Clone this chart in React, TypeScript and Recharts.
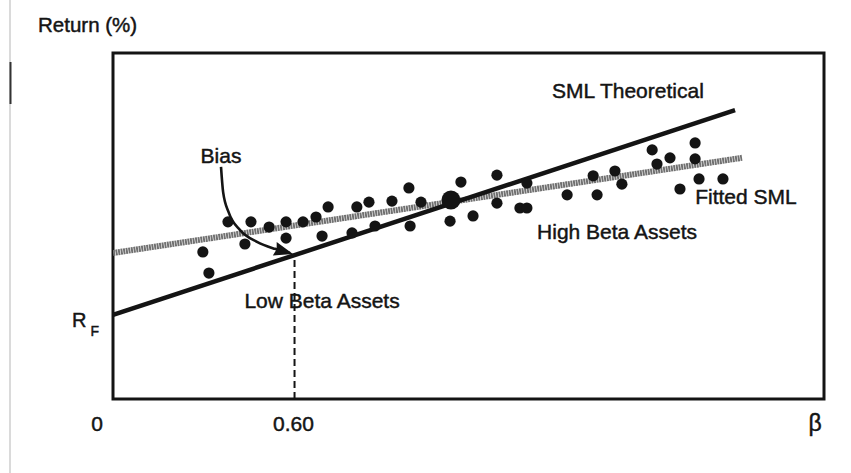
import React from 'react';
import {
  ComposedChart,
  XAxis,
  YAxis,
  Line,
  Scatter,
  ReferenceArea,
  ReferenceLine,
  ReferenceDot,
} from 'recharts';

// ---- data (beta, return %) ----
const assetBeta = [
  0.297, 0.317, 0.38, 0.436, 0.456, 0.516, 0.572, 0.572, 0.628, 0.671, 0.691, 0.711,
  0.79, 0.806, 0.846, 0.866, 0.922, 0.978, 0.982, 1.018, 1.114, 1.15, 1.19, 1.269,
  1.269, 1.345, 1.368, 1.368, 1.501, 1.587, 1.6, 1.659, 1.682, 1.782, 1.798, 1.841,
  1.874, 1.924, 1.924, 1.937, 2.016,
];
const assetReturn = [
  42.5, 36.4, 51.2, 44.8, 51.2, 49.7, 51.2, 46.5, 51.2, 52.6, 47.1, 55.5,
  48.0, 55.5, 56.9, 50.0, 57.2, 61.0, 50.0, 56.9, 51.4, 62.7, 52.9, 64.7,
  56.6, 55.2, 55.2, 62.4, 59.0, 64.5, 59.0, 65.9, 62.1, 72.0, 67.9, 69.7,
  60.7, 74.0, 69.4, 63.6, 63.6,
];
const marketBeta = [1.117];
const marketReturn = [57.5];

const riskFree = 24.3;
const smlBeta = [0, 2.056];
const smlReturn = [riskFree, 83.5];
const fittedBeta = [0, 2.079];
const fittedReturn = [42.2, 69.7];

const biasBeta = [0.357, 0.364, 0.383, 0.42, 0.476, 0.535, 0.585];
const biasReturn = [67.1, 59.8, 53.8, 48.8, 45.4, 43.4, 42.2];
const arrowTip = { b: 0.595, r: 41.9 };

const cutoffBeta = 0.6;
const xDomain: [number, number] = [0, 2.35];
const yDomain: [number, number] = [0, 100];
const xTicks = [0, 0.6, 2.35];
const xTickLabels = ['0', '0.60', 'β'];

const annotations = [
  { text: 'SML Theoretical', b: 1.702, r: 89.3 },
  { text: 'Fitted SML', b: 2.092, r: 58.4 },
  { text: 'High Beta Assets', b: 1.666, r: 48.3 },
  { text: 'Low Beta Assets', b: 0.691, r: 28.6 },
  { text: 'Bias', b: 0.357, r: 70.5 },
];

// ---- derived tables ----
const zip = (bs: number[], rs: number[]) => bs.map((b, i) => ({ b, r: rs[i] }));
const assets = zip(assetBeta, assetReturn);
const market = zip(marketBeta, marketReturn);
const sml = zip(smlBeta, smlReturn);
const fitted = zip(fittedBeta, fittedReturn);
const bias = zip(biasBeta, biasReturn);

const FONT = '"Liberation Sans", Arial, Helvetica, sans-serif';
const INK = '#141414';
const TEXT_STROKE = 0.45;

const Dot = (props: any) => {
  const { cx, cy, size } = props;
  return <circle cx={cx} cy={cy} r={size} fill={INK} />;
};

const xTickOffsets = [-16, -1, -9];
const XTick = (props: any) => {
  const { x, y, index } = props;
  return (
    <text
      x={x + xTickOffsets[index]}
      y={y + 32}
      textAnchor="middle"
      fontFamily={FONT}
      fontSize={index === 2 ? 23 : 21}
      fill={INK}
      stroke={INK}
      strokeWidth={TEXT_STROKE}
    >
      {xTickLabels[index]}
    </text>
  );
};

const YTick = (props: any) => {
  const { x, y } = props;
  return (
    <text
      x={x - 41}
      y={y + 12}
      fontFamily={FONT}
      fill={INK}
      stroke={INK}
      strokeWidth={TEXT_STROKE}
    >
      <tspan fontSize={20}>R</tspan>
      <tspan fontSize={14} dx={4} dy={9}>
        F
      </tspan>
    </text>
  );
};

const AnnotationText = (text: string) => (props: any) => {
  const { cx, cy } = props;
  return (
    <text
      x={cx}
      y={cy + 7.5}
      textAnchor="middle"
      fontFamily={FONT}
      fontSize={21}
      fill={INK}
      stroke={INK}
      strokeWidth={TEXT_STROKE}
    >
      {text}
    </text>
  );
};

const ArrowHead = (props: any) => {
  const { cx, cy } = props;
  return (
    <polygon
      points="0,0 -19,-7 -17,0 -19,7"
      transform={`translate(${cx},${cy}) rotate(16)`}
      fill={INK}
    />
  );
};

export default function App() {
  return (
    <div
      style={{
        position: 'absolute',
        left: 0,
        top: 0,
        width: 851,
        height: 473,
        background: '#fff',
        overflow: 'hidden',
      }}
    >
      <svg
        width={851}
        height={473}
        style={{ position: 'absolute', left: 0, top: 0 }}
      >
        <line x1={10} y1={0} x2={10} y2={473} stroke="#b5b5b5" strokeWidth={1} />
        <line x1={10.5} y1={62} x2={10.5} y2={104} stroke="#333" strokeWidth={2} />
        <text
          x={38}
          y={32}
          fontFamily={FONT}
          fontSize={20.5}
          fill={INK}
          stroke={INK}
          strokeWidth={TEXT_STROKE}
        >
          Return (%)
        </text>
      </svg>
      <div style={{ position: 'absolute', left: 0, top: 0 }}>
        <ComposedChart
          width={851}
          height={473}
          margin={{ top: 53, right: 27, left: 53, bottom: 34 }}
        >
          <XAxis
            type="number"
            dataKey="b"
            domain={xDomain}
            ticks={xTicks}
            allowDataOverflow
            axisLine={false}
            tickLine={false}
            tickSize={0}
            tickMargin={0}
            height={40}
            tick={<XTick />}
          />
          <YAxis
            type="number"
            dataKey="r"
            domain={yDomain}
            ticks={[riskFree]}
            allowDataOverflow
            axisLine={false}
            tickLine={false}
            tickSize={0}
            tickMargin={0}
            width={60}
            tick={<YTick />}
          />
          <ReferenceLine
            segment={[
              { x: cutoffBeta, y: yDomain[0] },
              { x: cutoffBeta, y: smlReturn[0] + (cutoffBeta * (smlReturn[1] - smlReturn[0])) / smlBeta[1] },
            ]}
            stroke={INK}
            strokeWidth={2}
            strokeDasharray="7 4"
          />
          <Line
            data={fitted}
            dataKey="r"
            type="linear"
            stroke="#707070"
            strokeWidth={6}
            strokeDasharray="2 0.6"
            dot={false}
            activeDot={false}
            isAnimationActive={false}
          />
          <Line
            data={sml}
            dataKey="r"
            type="linear"
            stroke={INK}
            strokeWidth={4.5}
            dot={false}
            activeDot={false}
            isAnimationActive={false}
          />
          <Line
            data={bias}
            dataKey="r"
            type="monotone"
            stroke={INK}
            strokeWidth={2.6}
            dot={false}
            activeDot={false}
            isAnimationActive={false}
          />
          <Scatter
            data={assets}
            dataKey="r"
            shape={(p: any) => <Dot {...p} size={5.6} />}
            isAnimationActive={false}
          />
          <Scatter
            data={market}
            dataKey="r"
            shape={(p: any) => <Dot {...p} size={9.5} />}
            isAnimationActive={false}
          />
          <ReferenceDot
            x={arrowTip.b}
            y={arrowTip.r}
            r={0}
            shape={<ArrowHead />}
          />
          {annotations.map((a) => (
            <ReferenceDot
              key={a.text}
              x={a.b}
              y={a.r}
              r={0}
              ifOverflow="visible"
              shape={AnnotationText(a.text)}
            />
          ))}
          <ReferenceArea
            x1={xDomain[0]}
            x2={xDomain[1]}
            y1={yDomain[0]}
            y2={yDomain[1]}
            fill="none"
            fillOpacity={0}
            stroke={INK}
            strokeWidth={3}
            ifOverflow="visible"
          />
        </ComposedChart>
      </div>
    </div>
  );
}
